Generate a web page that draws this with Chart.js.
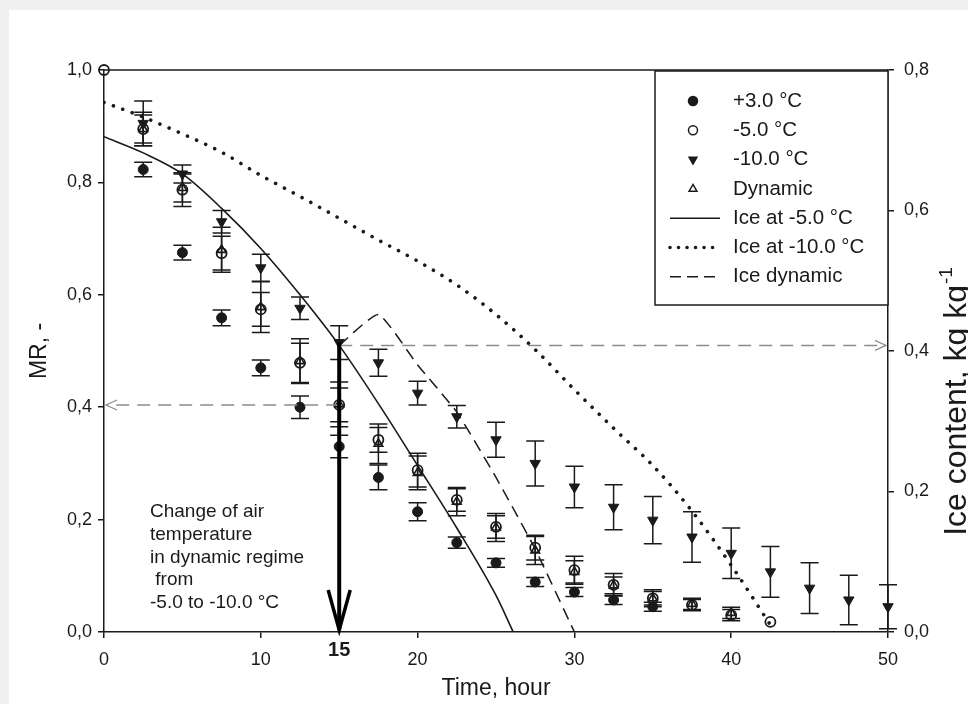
<!DOCTYPE html>
<html>
<head>
<meta charset="utf-8">
<script src="https://cdn.jsdelivr.net/npm/chart.js@4.4.1/dist/chart.umd.min.js"></script>
<style>
html, body { margin: 0; padding: 0; background: #eff0f2; }
#card { position: absolute; left: 9px; top: 10px; width: 959px; height: 694px; background: #fff; }
canvas { position: absolute; left: 0; top: 0; }
</style>
</head>
<body>
<div id="card"></div>
<canvas id="chart" width="968" height="704"></canvas>
<script>
// drying data, MR vs time (hours)
const t3 = [2.5, 5, 7.5, 10, 12.5, 15, 17.5, 20, 22.5, 25, 27.5, 30, 32.5, 35];
const mr3 = [0.823, 0.675, 0.559, 0.470, 0.400, 0.330, 0.275, 0.214, 0.159, 0.123, 0.089, 0.071, 0.057, 0.045];
const err3 = [0.013, 0.013, 0.014, 0.014, 0.02, 0.02, 0.022, 0.016, 0.01, 0.008, 0.008, 0.008, 0.008, 0.008];

const t5 = [0, 2.5, 5, 7.5, 10, 12.5, 15, 17.5, 20, 22.5, 25, 27.5, 30, 32.5, 35, 37.5, 40, 42.5];
const mr5 = [1.0, 0.895, 0.787, 0.674, 0.574, 0.479, 0.404, 0.342, 0.288, 0.235, 0.187, 0.150, 0.110, 0.084, 0.060, 0.048, 0.030, 0.018];
const err5 = [0, 0.03, 0.03, 0.03, 0.03, 0.035, 0.03, 0.022, 0.03, 0.02, 0.02, 0.022, 0.025, 0.02, 0.015, 0.01, 0.01, 0];

const t10 = [2.5, 5, 7.5, 10, 12.5, 15, 17.5, 20, 22.5, 25, 27.5, 30, 32.5, 35, 37.5, 40, 42.5, 45, 47.5, 50];
const mr10 = [0.905, 0.815, 0.730, 0.648, 0.576, 0.515, 0.479, 0.425, 0.383, 0.342, 0.300, 0.258, 0.222, 0.199, 0.169, 0.140, 0.107, 0.078, 0.057, 0.045];
const err10 = [0.04, 0.016, 0.02, 0.024, 0.02, 0.03, 0.024, 0.021, 0.02, 0.031, 0.04, 0.037, 0.04, 0.042, 0.045, 0.045, 0.045, 0.045, 0.044, 0.039];

const tDyn = [2.5, 5, 7.5, 10, 12.5, 15, 17.5, 20, 22.5, 25, 27.5, 30, 32.5, 35, 37.5, 40];
const mrDyn = [0.895, 0.790, 0.680, 0.578, 0.482, 0.405, 0.335, 0.283, 0.232, 0.186, 0.145, 0.107, 0.083, 0.060, 0.050, 0.034];
const errDyn = [0.025, 0.025, 0.04, 0.045, 0.04, 0.04, 0.035, 0.03, 0.025, 0.025, 0.025, 0.02, 0.015, 0.012, 0.01, 0.01];

// ice content, kg/kg (right axis)
const iceT5 = [0, 2.5, 5, 7.5, 10, 12.5, 15, 17.5, 20, 22.5, 25, 26.1];
const ice5 = [0.705, 0.682, 0.652, 0.603, 0.546, 0.480, 0.408, 0.325, 0.237, 0.148, 0.052, 0];
const iceT10 = [0, 2.5, 5, 7.5, 10, 12.5, 15, 17.5, 20, 22.5, 25, 27.5, 30, 32.5, 35, 37.5, 40, 42.5];
const ice10 = [0.754, 0.733, 0.709, 0.683, 0.650, 0.620, 0.589, 0.558, 0.528, 0.494, 0.452, 0.402, 0.345, 0.290, 0.237, 0.172, 0.095, 0.010];
const iceTDyn = [15, 17.5, 20, 22.5, 25, 27.5, 30];
const iceDyn = [0.408, 0.452, 0.380, 0.313, 0.220, 0.118, 0];

const xTicks = [0, 10, 20, 30, 40, 50];
const switchHour = 15;
const noteLines = ['Change of air', 'temperature', 'in dynamic regime', ' from', '-5.0 to -10.0 °C'];

const ink = '#1a1a1a';
const font = "'Liberation Sans', Arial, sans-serif";
const pts = (xs, ys) => xs.map((x, i) => ({ x, y: ys[i] }));
const comma = v => v.toFixed(1).replace('.', ',');

function arrowHead(ctx, tx, ty, dx, dy, len, half) {
    // open "V" head pointing along (dx,dy)
    const px = -dy, py = dx;
    ctx.beginPath();
    ctx.moveTo(tx - dx * len + px * half, ty - dy * len + py * half);
    ctx.lineTo(tx, ty);
    ctx.lineTo(tx - dx * len - px * half, ty - dy * len - py * half);
    ctx.stroke();
}

const extras = {
    id: 'extras',
    beforeDatasetsDraw(chart) {
        const ctx = chart.ctx, xs = chart.scales.x, ys = chart.scales.y;
        ctx.save();
        ctx.strokeStyle = ink;
        ctx.lineWidth = 1.5;
        chart.data.datasets.forEach(ds => {
            if (!ds.err) return;
            ds.data.forEach((p, i) => {
                const e = ds.err[i];
                if (!e) return;
                const x = xs.getPixelForValue(p.x);
                const y1 = ys.getPixelForValue(p.y + e), y2 = ys.getPixelForValue(p.y - e);
                ctx.beginPath();
                ctx.moveTo(x, y1); ctx.lineTo(x, y2);
                ctx.moveTo(x - 9, y1); ctx.lineTo(x + 9, y1);
                ctx.moveTo(x - 9, y2); ctx.lineTo(x + 9, y2);
                ctx.stroke();
            });
        });
        ctx.restore();
    },
    afterDraw(chart) {
        const ctx = chart.ctx, a = chart.chartArea;
        const xs = chart.scales.x, ys = chart.scales.y, ys2 = chart.scales.y2;
        ctx.save();

        // top frame line
        ctx.strokeStyle = ink;
        ctx.lineWidth = 1.5;
        ctx.beginPath();
        ctx.moveTo(a.left, a.top); ctx.lineTo(a.right, a.top);
        ctx.stroke();

        // grey dashed guides at the switching time
        const xs15 = xs.getPixelForValue(switchHour);
        const yMr = ys.getPixelForValue(mr5[t5.indexOf(switchHour)]);
        const yIce = ys2.getPixelForValue(ice5[iceT5.indexOf(switchHour)]);
        ctx.strokeStyle = '#8c8c8c';
        ctx.lineWidth = 1.5;
        ctx.setLineDash([13, 8]);
        ctx.beginPath();
        ctx.moveTo(xs15, yMr); ctx.lineTo(a.left + 2, yMr);
        ctx.moveTo(xs15, yIce); ctx.lineTo(a.right - 2, yIce);
        ctx.stroke();
        ctx.setLineDash([]);
        ctx.lineWidth = 1.2;
        arrowHead(ctx, a.left + 2, yMr, -1, 0, 11, 5);
        arrowHead(ctx, a.right - 2, yIce, 1, 0, 11, 5);

        // thick vertical arrow
        const yTop = ys.getPixelForValue(mr10[t10.indexOf(switchHour)]);
        const yBot = ys.getPixelForValue(0);
        ctx.strokeStyle = '#000';
        ctx.lineWidth = 4;
        ctx.beginPath();
        ctx.moveTo(xs15, yTop); ctx.lineTo(xs15, yBot - 2);
        ctx.stroke();
        ctx.lineWidth = 3.5;
        arrowHead(ctx, xs15, yBot - 2, 0, 1, 40, 11);

        // note text and bold 15
        ctx.fillStyle = ink;
        ctx.font = '19px ' + font;
        ctx.textAlign = 'left';
        ctx.textBaseline = 'middle';
        noteLines.forEach((s, i) => ctx.fillText(s, 150, 512 + i * 22.7));
        ctx.font = 'bold 20px ' + font;
        ctx.textAlign = 'center';
        ctx.fillText(String(switchHour), xs15, 650);

        // axis titles
        ctx.font = '23px ' + font;
        ctx.fillText('Time, hour', (a.left + a.right) / 2, 689);
        ctx.save();
        ctx.translate(40, (a.top + a.bottom) / 2);
        ctx.rotate(-Math.PI / 2);
        ctx.font = '23px ' + font;
        ctx.fillText('MR, -', 0, 0);
        ctx.restore();

        ctx.save();
        ctx.translate(966, 402);
        ctx.rotate(-Math.PI / 2);
        ctx.textAlign = 'left';
        ctx.textBaseline = 'alphabetic';
        const main = 'Ice content, kg kg';
        ctx.font = '32px ' + font;
        const w1 = ctx.measureText(main).width;
        ctx.font = '19px ' + font;
        const w2 = ctx.measureText('-1').width;
        const x0 = -(w1 + w2) / 2;
        ctx.font = '32px ' + font;
        ctx.fillText(main, x0, 0);
        ctx.font = '19px ' + font;
        ctx.fillText('-1', x0 + w1 + 1, -14);
        ctx.restore();

        // legend box
        const lx = 655, ly = a.top + 1, lw = a.right - lx, lh = 234;
        ctx.fillStyle = '#fff';
        ctx.fillRect(lx, ly, lw, lh);
        ctx.strokeStyle = ink;
        ctx.lineWidth = 1.5;
        ctx.strokeRect(lx, ly, lw, lh);
        ctx.font = '20.5px ' + font;
        ctx.textAlign = 'left';
        ctx.textBaseline = 'middle';
        chart.data.datasets.forEach((ds, i) => {
            const ry = ly + 30 + i * 29.3;
            ctx.fillStyle = ink;
            ctx.fillText(ds.label, 733, ry);
            ctx.strokeStyle = ds.borderColor || ink;
            if (ds.showLine) {
                ctx.lineWidth = ds.borderWidth;
                ctx.lineCap = ds.borderCapStyle || 'butt';
                ctx.setLineDash(ds.legendDash || []);
                ctx.beginPath();
                ctx.moveTo(670, ry); ctx.lineTo(720, ry);
                ctx.stroke();
                ctx.setLineDash([]);
                ctx.lineCap = 'butt';
            } else {
                ctx.fillStyle = ds.backgroundColor;
                ctx.lineWidth = 1.5;
                Chart.helpers.drawPoint(ctx, {
                    pointStyle: ds.pointStyle, radius: 4.5, rotation: ds.rotation || 0, borderWidth: 1.5
                }, 693, ry);
            }
        });
        ctx.restore();
    }
};

const tickFont = { family: font, size: 18 };
const axisGrid = { drawOnChartArea: false, drawTicks: true, tickLength: 6, color: ink, lineWidth: 1.5 };

new Chart(document.getElementById('chart'), {
    type: 'scatter',
    data: {
        datasets: [
            { label: '+3.0 °C', data: pts(t3, mr3), err: err3, pointStyle: 'circle', pointRadius: 5,
              backgroundColor: ink, borderColor: ink, borderWidth: 1, yAxisID: 'y', clip: false },
            { label: '-5.0 °C', data: pts(t5, mr5), err: err5, pointStyle: 'circle', pointRadius: 5,
              backgroundColor: 'rgba(0,0,0,0)', borderColor: ink, borderWidth: 1.8, yAxisID: 'y', clip: false },
            { label: '-10.0 °C', data: pts(t10, mr10), err: err10, pointStyle: 'triangle', rotation: 180, pointRadius: 6,
              backgroundColor: ink, borderColor: ink, borderWidth: 1, yAxisID: 'y', clip: false },
            { label: 'Dynamic', data: pts(tDyn, mrDyn), err: errDyn, pointStyle: 'triangle', pointRadius: 5,
              backgroundColor: 'rgba(0,0,0,0)', borderColor: ink, borderWidth: 1.6, yAxisID: 'y', clip: false },
            { label: 'Ice at -5.0 °C', data: pts(iceT5, ice5), yAxisID: 'y2', showLine: true, pointRadius: 0,
              borderColor: ink, borderWidth: 1.6, cubicInterpolationMode: 'monotone' },
            { label: 'Ice at -10.0 °C', data: pts(iceT10, ice10), yAxisID: 'y2', showLine: true, pointRadius: 0,
              borderColor: ink, borderWidth: 3.6, borderCapStyle: 'round', borderDash: [0.01, 10],
              legendDash: [0.01, 8.5], cubicInterpolationMode: 'monotone' },
            { label: 'Ice dynamic', data: pts(iceTDyn, iceDyn), yAxisID: 'y2', showLine: true, pointRadius: 0,
              borderColor: ink, borderWidth: 1.5, borderDash: [12, 7], legendDash: [11, 6], tension: 0.15 }
        ]
    },
    options: {
        responsive: false,
        animation: false,
        events: [],
        devicePixelRatio: 1,
        layout: { padding: { left: 10, right: 0, top: 70, bottom: 0 } },
        plugins: { legend: { display: false }, tooltip: { enabled: false } },
        scales: {
            x: {
                type: 'linear', min: 0, max: 50,
                afterFit: s => { s.height = 72; },
                afterBuildTicks: s => { s.ticks = xTicks.map(v => ({ value: v })); },
                ticks: { font: tickFont, color: ink, padding: 11, maxRotation: 0 },
                grid: axisGrid,
                border: { color: ink, width: 1.5 }
            },
            y: {
                type: 'linear', position: 'left', min: 0, max: 1,
                afterFit: s => { s.width = 94; },
                ticks: { stepSize: 0.2, font: tickFont, color: ink, padding: 6, callback: comma },
                grid: axisGrid,
                border: { color: ink, width: 1.5 }
            },
            y2: {
                type: 'linear', position: 'right', min: 0, max: 0.8,
                afterFit: s => { s.width = 80; },
                ticks: { stepSize: 0.2, font: tickFont, color: ink, padding: 10, callback: comma },
                grid: axisGrid,
                border: { color: ink, width: 1.5 }
            }
        }
    },
    plugins: [extras]
});
</script>
</body>
</html>
